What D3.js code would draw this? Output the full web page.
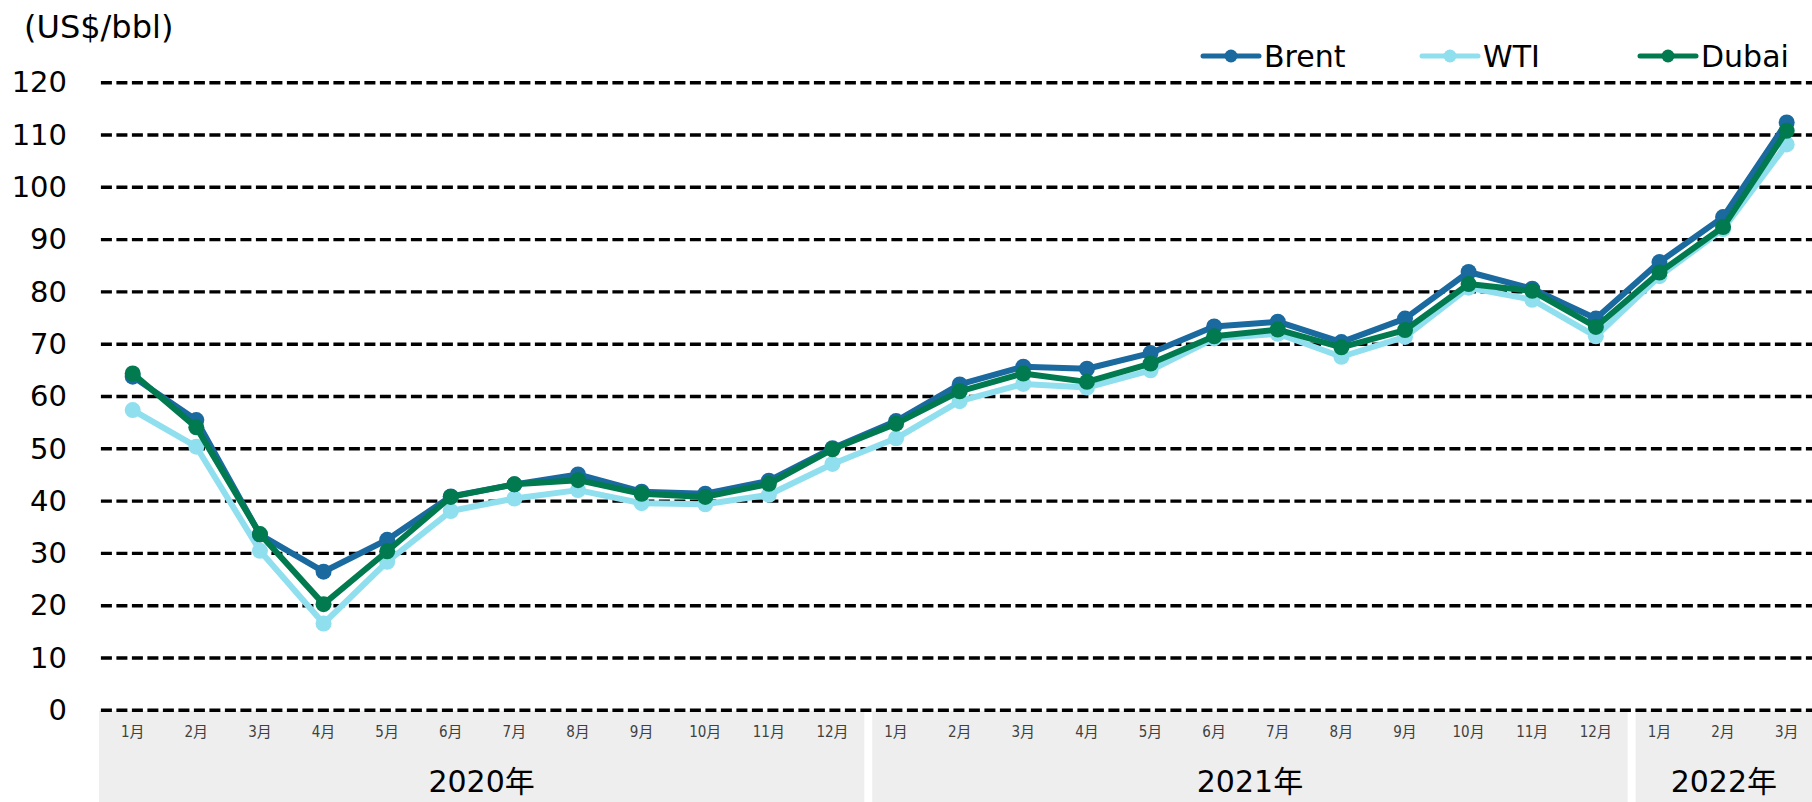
<!DOCTYPE html>
<html>
<head>
<meta charset="utf-8">
<script src="https://cdn.jsdelivr.net/npm/d3@7"></script>
<style>
  body { margin: 0; background: #fff; }
  svg { display: block; font-family: 'DejaVu Sans', 'Noto Sans CJK JP', sans-serif; }
</style>
</head>
<body>
<svg id="chart" width="1812" height="802"></svg>
<script>
const months = ['1月','2月','3月','4月','5月','6月','7月','8月','9月','10月','11月','12月',
  '1月','2月','3月','4月','5月','6月','7月','8月','9月','10月','11月','12月',
  '1月','2月','3月']
const years = [{ label: '2020年', count: 12 }, { label: '2021年', count: 12 }, { label: '2022年', count: 3 }]

const brent = [63.8, 55.5, 33.6, 26.5, 32.6, 40.9, 43.2, 45.1, 41.8, 41.4, 43.9, 50.1,
  55.3, 62.3, 65.7, 65.3, 68.3, 73.4, 74.3, 70.4, 74.9, 83.8, 80.6, 74.9,
  85.7, 94.3, 112.4]
const wti = [57.4, 50.4, 30.5, 16.6, 28.4, 38.1, 40.5, 42.1, 39.6, 39.4, 41.2, 47.1,
  52.0, 59.1, 62.4, 61.7, 65.0, 71.1, 72.0, 67.6, 71.4, 80.8, 78.5, 71.5,
  83.0, 92.0, 108.2]
const dubai = [64.4, 54.1, 33.7, 20.3, 30.4, 40.8, 43.2, 44.0, 41.4, 40.8, 43.3, 49.9,
  54.8, 61.0, 64.4, 62.8, 66.3, 71.5, 72.8, 69.4, 72.7, 81.5, 80.2, 73.3,
  83.7, 92.4, 110.8]
const yTicks = d3.range(0, 121, 10)

const series = [
  { name: 'WTI', values: wti, color: '#8fdfee' },
  { name: 'Brent', values: brent, color: '#1a699f' },
  { name: 'Dubai', values: dubai, color: '#007a4e' }
]
const legendOrder = ['Brent', 'WTI', 'Dubai']

const width = 1812
const plotLeft = 100.9
const step = 63.615
const idx = months.map((m, i) => i)

const svg = d3.select('#chart')

const x = d3.scaleBand().domain(idx).range([plotLeft, plotLeft + step * months.length])
const y = d3.scaleLinear().domain([0, 120]).range([710.3, 82.7])

// category bands under the axis
let start = 0
const bandG = svg.append('g')
years.forEach((yr, i) => {
  const x0 = x(start) + (i > 0 ? 8 : -2)
  const x1 = Math.min(width, x(start + yr.count - 1) + x.bandwidth())
  bandG.append('rect')
    .attr('x', x0).attr('y', 711).attr('width', x1 - x0).attr('height', 802 - 711)
    .style('fill', '#eeeeee')
  bandG.append('text')
    .attr('x', (x0 + x1) / 2).attr('y', 792)
    .style('text-anchor', 'middle').style('font-size', '30px').style('fill', '#000')
    .text(yr.label)
  start += yr.count
})

// month labels
svg.append('g').selectAll('text').data(idx).enter().append('text')
  .attr('x', d => x(d) + x.bandwidth() / 2).attr('y', 737)
  .style('text-anchor', 'middle').style('font-size', '15px')
  .style('font-family', "'DejaVu Sans Condensed', 'Noto Sans CJK JP', sans-serif")
  .style('fill', '#404040')
  .text(d => months[d])

// gridlines
svg.append('g').selectAll('line').data(yTicks).enter().append('line')
  .attr('x1', plotLeft).attr('x2', width)
  .attr('y1', d => y(d)).attr('y2', d => y(d))
  .style('stroke', '#000').style('stroke-width', 3.4).style('stroke-dasharray', '11,4.5')

// y axis labels
const yAxis = svg.append('g').attr('transform', 'translate(67,0)')
  .call(d3.axisLeft(y).tickValues(yTicks).tickSize(0).tickPadding(0))
yAxis.select('.domain').remove()
yAxis.selectAll('text').style('font-size', '29px').style('fill', '#000')
  .style('font-family', "'DejaVu Sans', sans-serif")

svg.append('text').attr('x', 24).attr('y', 38)
  .style('font-size', '32px').style('fill', '#000')
  .text('(US$/bbl)')

// series
const line = d3.line().x((d, i) => x(i) + x.bandwidth() / 2).y(d => y(d))
series.forEach(s => {
  const g = svg.append('g')
  g.append('path').datum(s.values).attr('d', line)
    .style('fill', 'none').style('stroke', s.color).style('stroke-width', 6)
    .style('stroke-linejoin', 'round')
  g.selectAll('circle').data(s.values).enter().append('circle')
    .attr('cx', (d, i) => x(i) + x.bandwidth() / 2).attr('cy', d => y(d)).attr('r', 8)
    .style('fill', s.color)
})

// legend
const legendX = [1203, 1422, 1640]
legendOrder.forEach((name, i) => {
  const s = series.find(d => d.name === name)
  const g = svg.append('g').attr('transform', `translate(${legendX[i]},56)`)
  g.append('line').attr('x1', 0).attr('x2', 56).attr('y1', 0).attr('y2', 0)
    .style('stroke', s.color).style('stroke-width', 5).style('stroke-linecap', 'round')
  g.append('circle').attr('cx', 28).attr('cy', 0).attr('r', 6.5).style('fill', s.color)
  g.append('text').attr('x', 61).attr('y', 11)
    .style('font-size', '30px').style('fill', '#000')
    .text(name)
})
</script>
</body>
</html>
